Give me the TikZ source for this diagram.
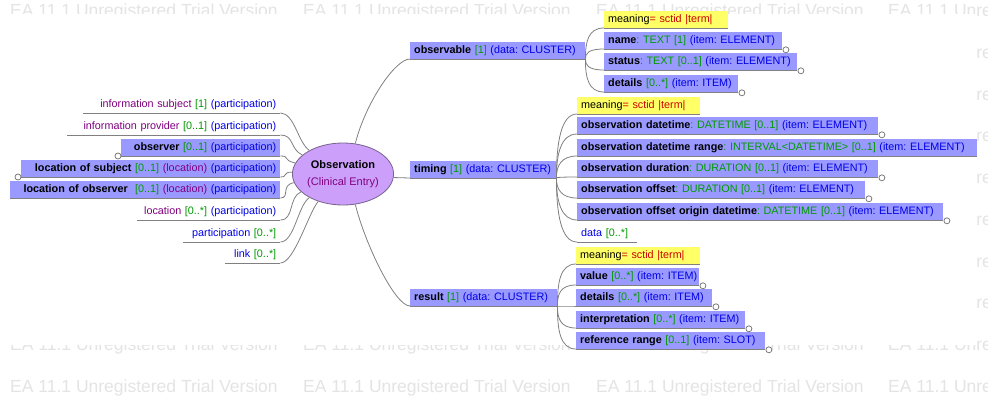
\documentclass[tikz,border=0pt]{standalone}
\usepackage{fontspec}
\setmainfont{Liberation Sans}
\usetikzlibrary{shapes.geometric,calc}
\frenchspacing
\definecolor{boxblue}{RGB}{153,153,255}
\definecolor{ymean}{RGB}{255,255,102}
\definecolor{ellfill}{RGB}{204,160,250}
\definecolor{ellline}{RGB}{120,100,140}
\definecolor{lgray}{RGB}{128,128,128}
\definecolor{cgray}{RGB}{110,110,110}
\definecolor{wmgray}{RGB}{228,228,228}
\definecolor{tgreen}{RGB}{0,153,0}
\definecolor{tblue}{RGB}{0,0,230}
\definecolor{tpurple}{RGB}{128,0,128}
\definecolor{tred}{RGB}{204,0,0}
\newcommand\Tg[1]{\textcolor{tgreen}{#1}}
\newcommand\Tb[1]{\textcolor{tblue}{#1}}
\newcommand\Tp[1]{\textcolor{tpurple}{#1}}
\newcommand\Tr[1]{\textcolor{tred}{#1}}
\tikzset{
  lbl/.style={font=\fontsize{10.8}{13}\selectfont\frenchspacing, inner xsep=4pt, inner ysep=0pt, minimum height=17pt, anchor=south west},
  rbox/.style={lbl, fill=boxblue, align=left},
  ybox/.style={lbl, fill=ymean, align=left},
  plainr/.style={lbl, align=right},
  plainl/.style={lbl, align=left},
  conn/.style={draw=lgray, line width=0.8pt},
  uline/.style={draw=lgray, line width=0.8pt},
  pin/.style={draw=cgray, fill=white, line width=0.7pt},
  wm/.style={font=\fontsize{17.5}{20}\selectfont, text=wmgray, anchor=base west, inner sep=0pt},
  ell/.style={ellipse, draw=ellline, fill=ellfill, minimum width=90pt, minimum height=62pt, inner sep=0pt, align=center, font=\fontsize{11}{17}\selectfont, line width=0.8pt}
}
\begin{document}
\begin{tikzpicture}[x=1pt,y=-1pt]
\useasboundingbox (0,0) rectangle (988,405);
\fill[white] (0,0) rectangle (988,405);
% watermark (visible only outside the diagram canvas)
\begin{scope}
\clip (0,0) rectangle (988,13.5) (0,345) rectangle (988,405) (977,0) rectangle (988,405);
\foreach \x [count=\i] in {10,303,596,888} {
  \node[wm] (wmt\i) at (\x,16.5) {EA 11.1 Unregistered Trial Version};
  \node[wm] (wma\i) at (\x,350.7) {EA 11.1 Unregistered Trial Version};
  \node[wm] (wmb\i) at (\x,392.5) {EA 11.1 Unregistered Trial Version};
}
\foreach \k in {1,...,7} {
  \node[wm] (wmr\k) at (888,16.5+41.78*\k) {EA 11.1 Unregistered Trial Version};
}
\end{scope}

% centre
\node[ell] (obs) at (343,174) {\textbf{Observation}\\\Tp{(Clinical Entry)}};

% left side
\node[plainr, text width=189pt] (infsubj) at (83,113) {\mbox{\Tp{information subject} \Tg{[1]} \Tb{(participation)}}};
\node[plainr, text width=205pt] (infprov) at (67,135) {\mbox{\Tp{information provider} \Tg{[0..1]} \Tb{(participation)}}};
\node[rbox, align=right, text width=151pt] (observer) at (121,156) {\mbox{\textbf{observer} \Tg{[0..1]} \Tb{(participation)}}};
\node[rbox, align=right, text width=251pt] (locsubj) at (21,177) {\mbox{\textbf{location of subject} \Tg{[0..1]} \Tp{(location)} \Tb{(participation)}}};
\node[rbox, align=right, text width=262pt] (locobs) at (10,198) {\mbox{\textbf{location of observer}\ \ \Tg{[0..1]} \Tp{(location)} \Tb{(participation)}}};
\node[plainr, text width=135pt] (location) at (137,220) {\mbox{\Tp{location} \Tg{[0..*]} \Tb{(participation)}}};
\node[plainr, text width=89pt] (particip) at (183,242) {\mbox{\Tb{participation} \Tg{[0..*]}}};
\node[plainr, text width=47pt] (link) at (225,263) {\mbox{\Tb{link} \Tg{[0..*]}}};

% right side, first level
\node[rbox, text width=167pt] (observable) at (410,59) {\mbox{\textbf{observable} \Tg{[1]} \Tb{(data: CLUSTER)}}};
\node[rbox, text width=138pt] (timing) at (410,178) {\mbox{\textbf{timing} \Tg{[1]} \Tb{(data: CLUSTER)}}};
\node[rbox, text width=139pt] (result) at (410,306) {\mbox{\textbf{result} \Tg{[1]} \Tb{(data: CLUSTER)}}};

% observable children
\node[ybox, text width=116pt] (omean) at (604,28) {\mbox{meaning\Tr{= sctid |term|}}};
\node[rbox, text width=170pt] (oname) at (604,49) {\mbox{\textbf{name}\Tg{: TEXT [1]} \Tb{(item: ELEMENT)}}};
\node[rbox, text width=185pt] (ostatus) at (604,70) {\mbox{\textbf{status}\Tg{: TEXT [0..1]} \Tb{(item: ELEMENT)}}};
\node[rbox, text width=126pt] (odetails) at (604,92) {\mbox{\textbf{details} \Tg{[0..*]} \Tb{(item: ITEM)}}};

% timing children
\node[ybox, text width=115pt] (tmean) at (577,114) {\mbox{meaning\Tr{= sctid |term|}}};
\node[rbox, text width=293pt] (tdt) at (577,134) {\mbox{\textbf{observation datetime}\Tg{: DATETIME [0..1]} \Tb{(item: ELEMENT)}}};
\node[rbox, text width=392pt] (tdtr) at (577,156) {\mbox{\textbf{observation datetime range}\Tg{: INTERVAL<DATETIME> [0..1]} \Tb{(item: ELEMENT)}}};
\node[rbox, text width=293pt] (tdur) at (577,177) {\mbox{\textbf{observation duration}\Tg{: DURATION [0..1]} \Tb{(item: ELEMENT)}}};
\node[rbox, text width=280pt] (toff) at (577,198) {\mbox{\textbf{observation offset}\Tg{: DURATION [0..1]} \Tb{(item: ELEMENT)}}};
\node[rbox, text width=358pt] (toffo) at (577,220) {\mbox{\textbf{observation offset origin datetime}\Tg{: DATETIME [0..1]} \Tb{(item: ELEMENT)}}};
\node[plainl, text width=52pt] (tdata) at (577,242) {\mbox{\Tb{data} \Tg{[0..*]}}};

% result children
\node[ybox, text width=116pt] (rmean) at (576,264) {\mbox{meaning\Tr{= sctid |term|}}};
\node[rbox, text width=115pt] (rvalue) at (576,285) {\mbox{\textbf{value} \Tg{[0..*]} \Tb{(item: ITEM)}}};
\node[rbox, text width=128pt] (rdetails) at (576,306) {\mbox{\textbf{details} \Tg{[0..*]} \Tb{(item: ITEM)}}};
\node[rbox, text width=161pt] (rinterp) at (576,328) {\mbox{\textbf{interpretation} \Tg{[0..*]} \Tb{(item: ITEM)}}};
\node[rbox, text width=181pt] (rrange) at (576,349) {\mbox{\textbf{reference range} \Tg{[0..1]} \Tb{(item: SLOT)}}};

% underlines
\foreach \n in {infsubj,infprov,observer,locsubj,locobs,location,particip,link,
  observable,timing,result,omean,oname,ostatus,odetails,
  tmean,tdt,tdtr,tdur,toff,toffo,tdata,rmean,rvalue,rdetails,rinterp,rrange}
  \draw[uline] (\n.south west) -- (\n.south east);

% left connectors
\draw[conn] (infsubj.south east) .. controls +(14,0) and +(-11.5,-8) .. (obs.145);
\draw[conn] (infprov.south east) .. controls +(14,0) and +(-12.7,-5.9) .. (obs.155);
\draw[conn] (observer.south east) .. controls +(10,0) and +(-13.6,-3.1) .. (obs.167);
\draw[conn] (locsubj.south east) .. controls +(8,0) and +(-10,-0.5) .. (obs.178);
\draw[conn] (locobs.south east) .. controls +(10,0) and +(-13.8,2.4) .. (obs.190);
\draw[conn] (location.south east) .. controls +(14,0) and +(-12.9,5.5) .. (obs.203);
\draw[conn] (particip.south east) .. controls +(14,0) and +(-11.5,8) .. (obs.215);
\draw[conn] (link.south east) .. controls +(14,0) and +(-9.4,10.4) .. (obs.228);

% right first-level connectors
\draw[conn] (obs.68) .. controls +(10,-40) and +(-15,0) .. (observable.south west);
\draw[conn] (obs.-4) -- (timing.south west);
\draw[conn] (obs.-68) .. controls +(10,40) and +(-15,0) .. (result.south west);

% fans
\foreach \p/\c in {observable/omean,observable/oname,observable/ostatus,observable/odetails,
  timing/tmean,timing/tdt,timing/tdtr,timing/tdur,timing/toff,timing/toffo,timing/tdata,
  result/rmean,result/rvalue,result/rdetails,result/rinterp,result/rrange}
  \draw[conn] (\p.south east) .. controls ($(\p.south east)!0.55!(\p.south east |- \c.south west)$)
     and ($(\c.south west)+(-16,0)$) .. (\c.south west);

% end circles
\foreach \n in {oname,ostatus,odetails,tdt,tdur,toff,toffo,rvalue,rdetails,rinterp,rrange}
  \draw[pin] ([shift={(3.5,0.8)}]\n.south east) circle[radius=3pt];
\foreach \n in {observer,locsubj}
  \draw[pin] ([shift={(-3,0)}]\n.south west) circle[radius=3pt];
\end{tikzpicture}
\end{document}
